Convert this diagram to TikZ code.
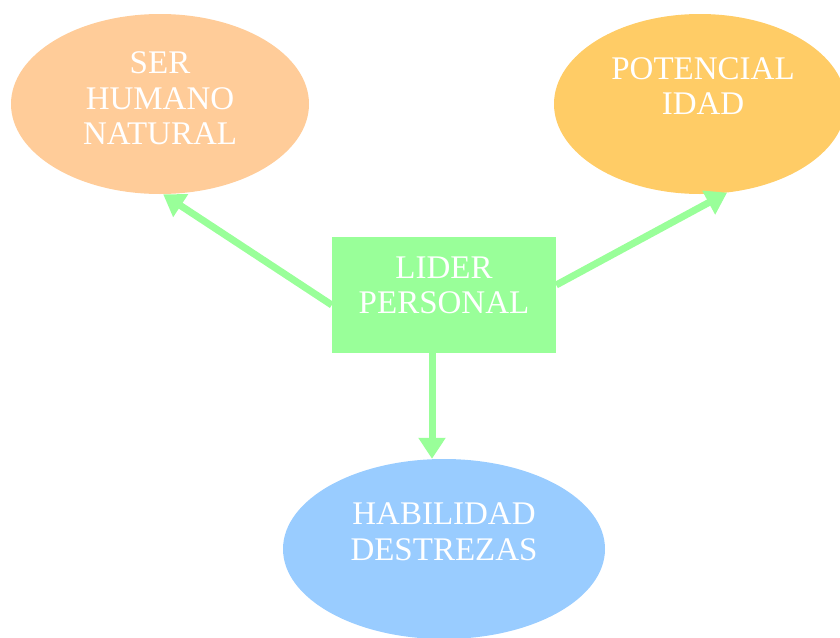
\documentclass[tikz,border=0pt]{standalone}
\usepackage{fontspec}
\setmainfont{Liberation Serif}
\usetikzlibrary{shapes.geometric,arrows.meta,calc}
\definecolor{cPeach}{HTML}{FFCC99}
\definecolor{cGold}{HTML}{FFCC66}
\definecolor{cBlue}{HTML}{99CCFF}
\definecolor{cGreen}{HTML}{99FF99}
\tikzset{
  blob/.style={ellipse, draw=none, inner sep=0pt},
  lbl/.style={text=white, align=center, inner sep=0pt, font=\fontsize{33}{35.5}\selectfont},
  conn/.style={draw=cGreen, line width=7pt, -{Triangle[width=26pt,length=21pt]}}
}
\begin{document}
\begin{tikzpicture}[x=1pt,y=-1pt]
\useasboundingbox (0,0) rectangle (840,637);
\node[blob, fill=cPeach, minimum width=298pt, minimum height=180pt] (e1) at (160,104) {};
\node[blob, fill=cGold, minimum width=292pt, minimum height=180pt] (e2) at (700,104) {};
\node[blob, fill=cBlue, minimum width=322pt, minimum height=180pt] (e3) at (444,549) {};
\node[rectangle, fill=cGreen, minimum width=224pt, minimum height=116pt, inner sep=0pt] (r) at (444,295) {};
\node[lbl] (t1) at (160,98.5) {SER\\HUMANO\\NATURAL};
\node[lbl] (t2) at (703,86) {POTENCIAL\\IDAD};
\node[lbl] (t3) at (444,532) {HABILIDAD\\DESTREZAS};
\node[lbl] (t4) at (444,285.5) {LIDER\\PERSONAL};
\draw[conn] ($(r.west)+(0,10)$) -- (e1.-88);
\draw[conn] ($(r.east)+(0,-10)$) -- (e2.-73);
\draw[conn] ($(r.south)+(-12,0)$) -- ($(e3.north)+(-12,0)$);
\end{tikzpicture}
\end{document}
